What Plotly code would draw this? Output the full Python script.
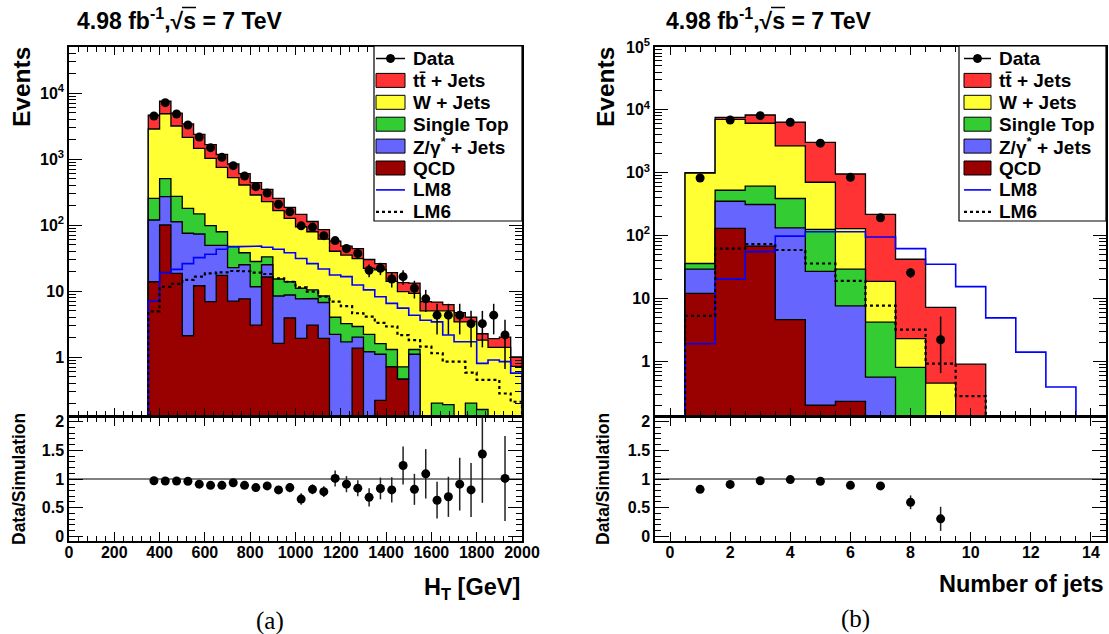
import plotly.graph_objects as go

W, H = 1109, 634

# ---------------- Panel (a): H_T ----------------
ht_edges = list(range(350, 2001, 50))
ht_data = [4480, 7140, 4810, 3270, 2150, 1485, 1060, 792, 552, 381, 305, 206, 159, 97, 93, 69,
           58, 44, 37, 20.6, 22.1, 15.2, 16.5, 11.0, 7.6, 4.3, 4.3, 4.3, 3.2, 3.2, 4.3, 2.16, None]
ht_data_err = [67, 85, 69, 57, 46, 39, 33, 28, 23, 20, 17, 14, 13, 10, 9.6, 8.3,
               7.6, 6.6, 6.1, 4.5, 4.7, 3.9, 4.1, 3.3, 2.8, 2.1, 2.1, 2.1, 1.8, 1.8, 2.1, 1.5, None]
ht_ttbar = [1750, 2650, 1790, 1270, 910, 630, 422, 319, 196, 155, 121, 89, 59, 51, 34, 24,
            17, 13, 13, 8, 5, 5, 3.6, 4.0, 1.9, 1.8, 1.2, 1.3, 0.6, 0.45, 0.5, 0.6, 0.28]
ht_wjets = [2596, 4346, 2888, 1951, 1303, 922, 669, 474, 366, 257, 193, 149.8, 112.2, 83, 68.6, 52.6,
            36, 31.8, 28.1, 19.8, 19.4, 12.7, 9.09, 7.9, 5.0, 4.8, 4.81, 3.4, 3.2, 1.64, 1.4, 1.4, 0.72]
ht_stop = [135, 235, 160, 104, 74, 49, 30, 24.4, 13, 16.4, 8, 6.8, 5.1, 3.4, 2.7, 1.7,
           1.8, 1.5, 0.9, 1.0, 0.5, 0.59, 0.25, 0.2, 0, 0.2, 0.19, 0, 0.2, 0.16, 0, 0, 0]
ht_zjets = [105.2, 169, 93.5, 72.9, 61, 42.1, 31.7, 15.6, 17.4, 8.55, 8.7, 6.79, 4.8, 5.68, 4.65, 4.78,
            2.2, 1.7, 0.64, 1.2, 0.88, 0, 0, 1.1, 0, 0, 0, 0, 0, 0, 0, 0, 0]
ht_qcd = [13.8, 100, 18.5, 2.1, 12, 6.9, 17.3, 7.0, 7.6, 3.05, 16.3, 1.61, 3.9, 1.92, 3.05, 1.92,
          0, 0, 1.36, 0, 0.22, 0.71, 0.46, 0, 0, 0, 0, 0, 0, 0, 0, 0, 0]
ht_lm8 = [7.0, 19.0, 21.3, 26, 32, 36, 43, 47, 47, 48, 46, 43, 38, 31, 26, 21.5,
          17.5, 16.5, 12.3, 10.4, 8.2, 6.5, 5.5, 4.3, 3.6, 3.4, 2.15, 1.7, 1.7, 0.80, 0.90, 0.85, 0.57]
ht_lm6 = [4.9, 11.6, 12.8, 14.7, 16.5, 18.5, 19.2, 20.1, 19.9, 19.0, 18.1, 15.6, 13.8, 11.4, 9.8, 8.2,
          6.9, 5.9, 4.6, 4.1, 3.3, 2.9, 2.15, 1.8, 1.44, 1.14, 0.85, 0.85, 0.58, 0.45, 0.45, 0.28, 0.21]
ht_ratio = [0.97, 0.965, 0.965, 0.96, 0.91, 0.89, 0.89, 0.935, 0.89, 0.85, 0.88, 0.81, 0.85, 0.65, 0.82, 0.78,
            1.01, 0.91, 0.84, 0.68, 0.835, 0.81, 1.235, 0.82, 1.09, 0.63, 0.69, 0.91, 0.81, 1.435, None, 1.01, None]
ht_ratio_err = [0.02, 0.015, 0.02, 0.02, 0.025, 0.03, 0.035, 0.04, 0.045, 0.05, 0.06, 0.07, 0.08, 0.1, 0.085, 0.095,
                0.14, 0.14, 0.14, 0.16, 0.19, 0.22, 0.33, 0.27, 0.43, 0.32, 0.35, 0.46, 0.47, 0.85, None, 0.74, None]
ht_ticks = list(range(0, 2001, 200))

# ---------------- Panel (b): number of jets ----------------
nj_edges = [i + 0.5 for i in range(0, 14)]
nj_data = [824, 6900, 8090, 6350, 2950, 845, 192, 25.6, 2.2]
nj_err_up = [29, 83, 90, 80, 54, 29, 14, 4.7, 2.95]
nj_err_dn = [29, 83, 90, 80, 54, 29, 14, 4.5, 1.55]
nj_ttbar = [15, 540, 2170, 3670, 2325, 826, 198.3, 39.7, 6.75, 0.9]
nj_wjets = [949, 6554, 5510, 2291, 579, 99.8, 14.5, 1.5, 0.45, 0]
nj_stop = [6.7, 174, 298, 256, 99.1, 21.6, 3.64, 0.8, 0, 0]
nj_zjets = [17.3, 222, 244, 128.4, 26.7, 7.37, 0.56, 0, 0, 0]
nj_qcd = [12.0, 130, 68, 4.6, 0.2, 0.23, 0, 0, 0, 0]
nj_lm8 = [1.9, 20.3, 55.6, 98, 115, 115, 95, 62, 35, 15.4, 4.9, 1.4, 0.39]
nj_lm6 = [5.3, 62, 73, 59, 36, 19.1, 7.7, 3.2, 0.92, 0.28]
nj_ratio = [0.82, 0.906, 0.97, 0.99, 0.96, 0.89, 0.88, 0.594, 0.306]
nj_ratio_err = [0.03, 0.015, 0.015, 0.015, 0.02, 0.035, 0.065, 0.12, 0.21]
nj_ticks = list(range(0, 15, 2))

ratio_ticks = [0, 0.5, 1, 1.5, 2]
ratio_ticktext = ["0", "0.5", "1", "1.5", "2"]

COL = {"tt": "#ff3333", "w": "#ffff33", "st": "#33cc33", "z": "#6666ff", "qcd": "#990000"}
FLOOR = 1e-3
FONT = "Liberation Sans"


def centers(edges, n):
    return [(edges[i] + edges[i + 1]) / 2 for i in range(n)]


def steps(edges, vals):
    xs, ys = [edges[0]], [FLOOR]
    for i, v in enumerate(vals):
        vv = v if (v is not None and v > 0) else FLOOR
        xs += [edges[i], edges[i + 1]]
        ys += [vv, vv]
    xs.append(edges[len(vals)])
    ys.append(FLOOR)
    return xs, ys


def cumulative(*layers):
    out, run = [], [0.0] * len(layers[0])
    for lay in layers:
        run = [a + b for a, b in zip(run, lay)]
        out.append(run)
    return out  # qcd, +z, +st, +w, +tt


fig = go.Figure()


def add_panel(edges, qcd, z, st, w, tt, lm8, lm6, data, eup, edn, ratio, rerr, xa, ya, xr, yr):
    c_qcd, c_z, c_st, c_w, c_tt = cumulative(qcd, z, st, w, tt)
    for lev, col in [(c_tt, COL["tt"]), (c_w, COL["w"]), (c_st, COL["st"]), (c_z, COL["z"]), (c_qcd, COL["qcd"])]:
        xs, ys = steps(edges, lev)
        fig.add_trace(go.Scatter(x=xs, y=ys, mode="lines", fill="toself", fillcolor=col,
                                 line=dict(color="black", width=1.3), xaxis=xa, yaxis=ya,
                                 hoverinfo="skip", showlegend=False))
    xs, ys = steps(edges, lm8)
    fig.add_trace(go.Scatter(x=xs, y=ys, mode="lines", line=dict(color="#0000ff", width=1.6),
                             xaxis=xa, yaxis=ya, showlegend=False))
    xs, ys = steps(edges, lm6)
    fig.add_trace(go.Scatter(x=xs, y=ys, mode="lines", line=dict(color="black", width=2.2, dash="dot"),
                             xaxis=xa, yaxis=ya, showlegend=False))
    cx = centers(edges, len(data))
    fig.add_trace(go.Scatter(x=cx, y=data, mode="markers", marker=dict(color="black", size=9),
                             error_y=dict(type="data", symmetric=False, array=eup, arrayminus=edn,
                                          color="black", thickness=1.5, width=0),
                             xaxis=xa, yaxis=ya, showlegend=False))
    cr = centers(edges, len(ratio))
    fig.add_trace(go.Scatter(x=cr, y=ratio, mode="markers", marker=dict(color="black", size=9),
                             error_y=dict(type="data", array=rerr, color="#222222", thickness=1.5, width=0),
                             xaxis=xr, yaxis=yr, showlegend=False))


add_panel(ht_edges, ht_qcd, ht_zjets, ht_stop, ht_wjets, ht_ttbar, ht_lm8, ht_lm6,
          ht_data, ht_data_err, ht_data_err, ht_ratio, ht_ratio_err, "x", "y", "x2", "y2")
add_panel(nj_edges, nj_qcd, nj_zjets, nj_stop, nj_wjets, nj_ttbar, nj_lm8, nj_lm6,
          nj_data, nj_err_up, nj_err_dn, nj_ratio, nj_ratio_err, "x3", "y3", "x4", "y4")


def px(x):
    return x / W


def py(y):
    return 1 - y / H


def b(lst):
    return ["<b>%s</b>" % s for s in lst]


tickfont = dict(family=FONT, size=16, color="black")
base = dict(showline=True, linecolor="black", linewidth=1.5, mirror="ticks", ticks="inside",
            tickcolor="black", tickwidth=1.2, showgrid=False, zeroline=False, tickfont=tickfont,
            automargin=False, tickmode="array")

log_minor = []
for dec in [0.1, 1, 10, 100, 1000, 10000]:
    log_minor += [dec * k for k in range(2, 10)]

dom_l = [px(69), px(522)]
dom_r = [px(655), px(1106)]
dom_top = [py(416), py(47)]
dom_bot = [py(541), py(417)]

log_vals = [1, 10, 100, 1000, 10000, 100000]
log_text = b(["1", "10", "10<sup>2</sup>", "10<sup>3</sup>", "10<sup>4</sup>", "10<sup>5</sup>"])

fig.update_layout(
    template="none",
    font=dict(family=FONT, color="black"),
    xaxis=dict(base, domain=dom_l, anchor="y", range=[0, 2000], tickvals=ht_ticks, ticklen=8,
               showticklabels=False, minor=dict(ticks="inside", dtick=40, tick0=0, ticklen=5, tickcolor="black")),
    yaxis=dict(base, domain=dom_top, anchor="x", type="log", range=[-0.894, 4.697], ticklen=13,
               tickvals=log_vals[:5], ticktext=log_text[:5],
               minor=dict(ticks="inside", tickmode="array", tickvals=log_minor, ticklen=7, tickcolor="black")),
    xaxis2=dict(base, domain=dom_l, anchor="y2", range=[0, 2000], ticklen=9, ticklabelstandoff=-4,
                tickvals=ht_ticks, ticktext=b([str(t) for t in ht_ticks]),
                minor=dict(ticks="inside", dtick=40, tick0=0, ticklen=5, tickcolor="black")),
    yaxis2=dict(base, domain=dom_bot, anchor="x2", range=[-0.08, 2.08], ticklen=14,
                tickvals=ratio_ticks, ticktext=b(ratio_ticktext),
                minor=dict(ticks="inside", dtick=0.1, tick0=0, ticklen=6, tickcolor="black")),
    xaxis3=dict(base, domain=dom_r, anchor="y3", range=[-0.5, 14.5], tickvals=nj_ticks, ticklen=8,
                showticklabels=False, minor=dict(ticks="inside", dtick=0.5, tick0=0, ticklen=5, tickcolor="black")),
    yaxis3=dict(base, domain=dom_top, anchor="x3", type="log", range=[-0.87, 5.0], ticklen=13,
                tickvals=log_vals, ticktext=log_text,
                minor=dict(ticks="inside", tickmode="array", tickvals=log_minor, ticklen=7, tickcolor="black")),
    xaxis4=dict(base, domain=dom_r, anchor="y4", range=[-0.5, 14.5], ticklen=9, ticklabelstandoff=-4,
                tickvals=nj_ticks, ticktext=b([str(t) for t in nj_ticks]),
                minor=dict(ticks="inside", dtick=0.5, tick0=0, ticklen=5, tickcolor="black")),
    yaxis4=dict(base, domain=dom_bot, anchor="x4", range=[-0.08, 2.08], ticklen=14,
                tickvals=ratio_ticks, ticktext=b(ratio_ticktext),
                minor=dict(ticks="inside", dtick=0.1, tick0=0, ticklen=6, tickcolor="black")),
)

shapes = []
annots = []

# unity lines in ratio panels
shapes.append(dict(type="line", xref="x2", yref="y2", x0=0, x1=2000, y0=1, y1=1,
                   line=dict(color="black", width=1), layer="below"))
shapes.append(dict(type="line", xref="x4", yref="y4", x0=-0.5, x1=14.5, y0=1, y1=1,
                   line=dict(color="black", width=1), layer="below"))


def text(x, y, s, size, xanchor="center", angle=0, family=FONT, bold=True):
    annots.append(dict(x=px(x), y=py(y), xref="paper", yref="paper",
                       text=("<b>%s</b>" % s) if bold else s, showarrow=False,
                       xanchor=xanchor, yanchor="middle", textangle=angle,
                       font=dict(family=family, size=size, color="black")))


title = "4.98 fb<sup>-1</sup>,√s = 7 TeV"
for x0 in (75, 664):
    text(x0, 18.5, title, 23, xanchor="left")
    shapes.append(dict(type="line", xref="paper", yref="paper", x0=px(x0 + 107), x1=px(x0 + 121),
                       y0=py(7.5), y1=py(7.5), line=dict(color="black", width=1.5)))

text(21, 87, "Events", 24.5, angle=-90)
text(605, 87, "Events", 24.5, angle=-90)
text(19, 479, "Data/Simulation", 17.5, angle=-90)
text(603, 479, "Data/Simulation", 17.5, angle=-90)
text(522, 588, "H<sub>T</sub> [GeV]", 23.5, xanchor="right")
text(1106, 584, "Number of jets", 23.5, xanchor="right")
text(270, 621, "(a)", 25, family="Liberation Serif", bold=False)
text(855, 619, "(b)", 25, family="Liberation Serif", bold=False)

labels = ["Data", "tt\u0304 + Jets", "W + Jets", "Single Top", "Z/γ<sup>*</sup> + Jets", "QCD", "LM8", "LM6"]
fills = [COL["tt"], COL["w"], COL["st"], COL["z"], COL["qcd"]]


def legend(bx0, bx1, by0, by1, sw0, sw1, tx):
    shapes.append(dict(type="rect", xref="paper", yref="paper", x0=px(bx0), x1=px(bx1), y0=py(by1), y1=py(by0),
                       line=dict(color="black", width=1.2), fillcolor="white"))
    ys = [58.5 + 21.9 * i for i in range(8)]
    mid = (sw0 + sw1) / 2
    shapes.append(dict(type="line", xref="paper", yref="paper", x0=px(sw0), x1=px(sw1), y0=py(ys[0]), y1=py(ys[0]),
                       line=dict(color="black", width=1.5)))
    shapes.append(dict(type="line", xref="paper", yref="paper", x0=px(mid), x1=px(mid), y0=py(ys[0] - 4),
                       y1=py(ys[0] + 4), line=dict(color="black", width=1.5)))
    shapes.append(dict(type="circle", xref="paper", yref="paper", x0=px(mid - 4), x1=px(mid + 4),
                       y0=py(ys[0] + 4), y1=py(ys[0] - 4), fillcolor="black", line=dict(color="black", width=1)))
    for j, col in enumerate(fills):
        yc = ys[j + 1]
        shapes.append(dict(type="rect", xref="paper", yref="paper", x0=px(sw0), x1=px(sw1), y0=py(yc + 7),
                           y1=py(yc - 7), fillcolor=col, line=dict(color="black", width=1)))
    shapes.append(dict(type="line", xref="paper", yref="paper", x0=px(sw0), x1=px(sw1), y0=py(ys[6]), y1=py(ys[6]),
                       line=dict(color="#0000ff", width=1.6)))
    shapes.append(dict(type="line", xref="paper", yref="paper", x0=px(sw0), x1=px(sw1), y0=py(ys[7]), y1=py(ys[7]),
                       line=dict(color="black", width=2.2, dash="dot")))
    for lab, yc in zip(labels, ys):
        text(tx, yc, lab, 19, xanchor="left")


legend(374, 522, 46, 221, 376, 405, 410.5)
legend(959, 1106, 46, 221, 964, 991, 996.5)

fig.update_layout(width=W, height=H, margin=dict(l=0, r=0, t=0, b=0, pad=0), paper_bgcolor="white",
                  plot_bgcolor="white", shapes=shapes, annotations=annots, showlegend=False)

fig.write_html("out.html")
